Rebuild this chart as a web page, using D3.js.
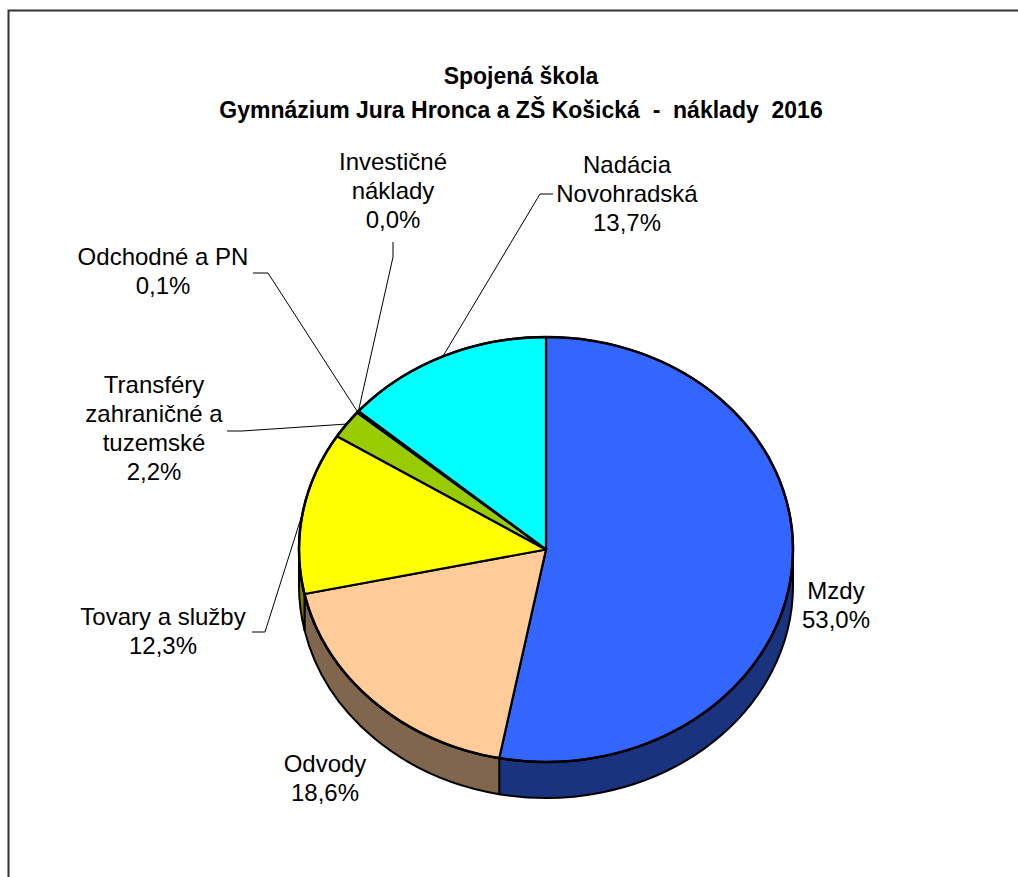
<!DOCTYPE html>
<html>
<head>
<meta charset="utf-8">
<script src="https://cdn.jsdelivr.net/npm/d3@7"></script>
<style>
  body { margin: 0; background: #fff; }
  text { font-family: "Liberation Sans", Arial, sans-serif; fill: #000; white-space: pre; }
</style>
</head>
<body>
<div id="chart"></div>
<script>
// data (clockwise from 12 o'clock)
const categories = ["Mzdy", "Odvody", "Tovary a služby", "Transféry zahraničné a tuzemské",
  "Odchodné a PN", "Investičné náklady", "Nadácia Novohradská"];
const values = [53.0, 18.6, 12.3, 2.2, 0.1, 0.04, 13.7];
const titleLines = ["Spojená škola", "Gymnázium Jura Hronca a ZŠ Košická  -  náklady  2016"];

const colors = ["#3366FF", "#FFCC99", "#FFFF00", "#99CC00", "#CCFFFF", "#333399", "#00FFFF"];
const sideColors = ["#1A337F", "#7F664C", "#808000", "#4C6600", "#667F7F", "#1A1A4C", "#007F7F"];

// label layout: line breaks, text centre, first baseline, leader elbow/end
const labelLayout = [
  { lines: ["Mzdy"], x: 836, y: 599 },
  { lines: ["Odvody"], x: 325, y: 772 },
  { lines: ["Tovary a služby"], x: 163, y: 625, leader: [[265, 632], [252, 632]] },
  { lines: ["Transféry", "zahraničné a", "tuzemské"], x: 154, y: 393, leader: [[242, 431], [227, 431]] },
  { lines: ["Odchodné a PN"], x: 163, y: 265, leader: [[268, 273], [253, 273]] },
  { lines: ["Investičné", "náklady"], x: 393, y: 170, leader: [[393, 257], [393, 242]] },
  { lines: ["Nadácia", "Novohradská"], x: 627, y: 173, leader: [[540, 194], [553, 194]] }
];

const width = 1018, height = 877;
const cx = 546, cy = 549.5, rx = 247, ry = 212.5, depth = 36;

const svg = d3.select("#chart").append("svg")
  .attr("width", width).attr("height", height);

// frame (only top and left visible)
svg.append("path")
  .attr("d", `M8.5,${height} V10.5 H${width}`)
  .attr("fill", "none").attr("stroke", "#333").attr("stroke-width", 2);

// title
svg.selectAll("text.title")
  .data(titleLines)
  .join("text")
  .attr("class", "title")
  .attr("x", 521)
  .attr("y", (d, i) => 84 + i * 34)
  .attr("text-anchor", "middle")
  .style("font-weight", "bold")
  .style("font-size", "23px")
  .text(d => d);

const pie = d3.pie().sort(null).value(d => d);
const slices = pie(values);
const total = d3.sum(values);
const fmt = v => d3.format(".1f")(v).replace(".", ",") + "%";

const pt = (a, dy = 0) => [cx + rx * Math.sin(a), cy - ry * Math.cos(a) + dy];

// side walls (front half: angle between PI/2 and 3PI/2)
const sides = svg.append("g");
slices.forEach((s, i) => {
  const a0 = Math.max(s.startAngle, Math.PI / 2);
  const a1 = Math.min(s.endAngle, 3 * Math.PI / 2);
  if (a1 <= a0) return;
  const p0 = pt(a0), p1 = pt(a1), q1 = pt(a1, depth), q0 = pt(a0, depth);
  const large = (a1 - a0) > Math.PI ? 1 : 0;
  sides.append("path")
    .attr("d", `M${p0} A${rx},${ry} 0 ${large} 1 ${p1} L${q1} A${rx},${ry} 0 ${large} 0 ${q0} Z`)
    .attr("fill", sideColors[i])
    .attr("stroke", "#000")
    .attr("stroke-width", 2)
    .attr("stroke-linejoin", "round");
});

// top faces
const arc = d3.arc().innerRadius(0).outerRadius(rx);
svg.append("g")
  .attr("transform", `translate(${cx},${cy}) scale(1,${ry / rx})`)
  .selectAll("path")
  .data(slices)
  .join("path")
  .attr("d", arc)
  .attr("fill", (d, i) => colors[i])
  .attr("stroke", "#000")
  .attr("stroke-width", 2.2)
  .attr("stroke-linejoin", "round")
  .attr("vector-effect", "non-scaling-stroke");

// outer rim
svg.append("ellipse")
  .attr("cx", cx).attr("cy", cy).attr("rx", rx).attr("ry", ry)
  .attr("fill", "none").attr("stroke", "#000").attr("stroke-width", 2.5);

// leader lines
svg.append("g").selectAll("polyline")
  .data(slices.filter((d, i) => labelLayout[i].leader))
  .join("polyline")
  .attr("fill", "none")
  .attr("stroke", "#000")
  .attr("stroke-width", 1)
  .attr("points", d => {
    const mid = (d.startAngle + d.endAngle) / 2;
    return [pt(mid), ...labelLayout[d.index].leader].join(" ");
  });

// labels
const labels = svg.append("g").selectAll("text")
  .data(slices)
  .join("text")
  .attr("text-anchor", "middle")
  .style("font-size", "24px");

labels.each(function (d, i) {
  const L = labelLayout[i];
  const lines = [...L.lines, fmt(d.value / total * 100)];
  d3.select(this).selectAll("tspan")
    .data(lines)
    .join("tspan")
    .attr("x", L.x)
    .attr("y", (t, j) => L.y + j * 29)
    .text(t => t);
});
</script>
</body>
</html>
